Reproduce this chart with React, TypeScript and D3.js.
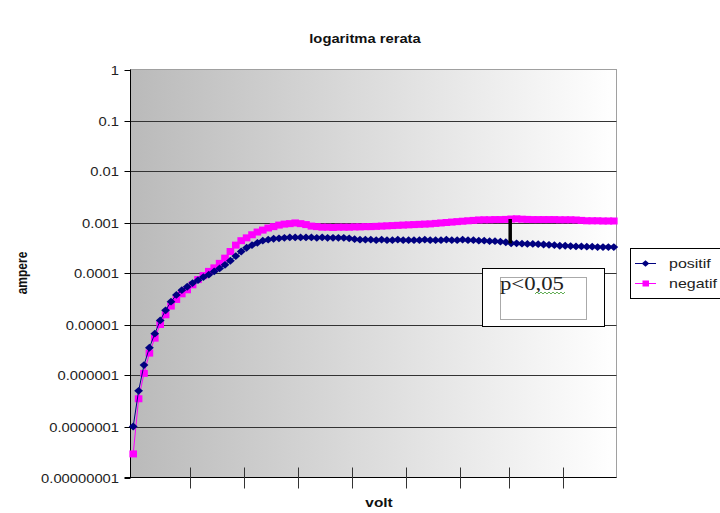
import { useEffect, useRef } from "react";
import * as d3 from "d3";

// ampere readings per volt step (90 categories, no labels on the volt axis)
const positif = [
  1.0e-7, 5.0e-7, 1.6e-6, 3.5e-6, 6.6e-6, 1.2e-5, 1.9e-5, 2.8e-5, 3.8e-5, 4.7e-5,
  5.5e-5, 6.5e-5, 7.4e-5, 8.5e-5, 9.5e-5, 1.1e-4, 1.26e-4, 1.48e-4, 1.78e-4, 2.2e-4,
  2.7e-4, 3.2e-4, 3.6e-4, 4.0e-4, 4.4e-4, 4.6e-4, 4.8e-4, 4.9e-4, 5.0e-4, 5.1e-4,
  5.1e-4, 5.1e-4, 5.1e-4, 5.1e-4, 5.0e-4, 5.1e-4, 5.0e-4, 5.0e-4, 5.0e-4, 5.0e-4,
  4.9e-4, 4.7e-4, 4.6e-4, 4.6e-4, 4.6e-4, 4.5e-4, 4.6e-4, 4.5e-4, 4.5e-4, 4.6e-4,
  4.5e-4, 4.5e-4, 4.5e-4, 4.5e-4, 4.6e-4, 4.5e-4, 4.5e-4, 4.5e-4, 4.6e-4, 4.5e-4,
  4.5e-4, 4.6e-4, 4.5e-4, 4.5e-4, 4.4e-4, 4.4e-4, 4.3e-4, 4.3e-4, 4.2e-4, 4.1e-4,
  3.9e-4, 3.9e-4, 3.85e-4, 3.8e-4, 3.8e-4, 3.75e-4, 3.7e-4, 3.65e-4, 3.6e-4, 3.5e-4,
  3.5e-4, 3.45e-4, 3.4e-4, 3.4e-4, 3.35e-4, 3.35e-4, 3.3e-4, 3.3e-4, 3.3e-4, 3.3e-4,
];

const negatif = [
  2.9e-8, 3.5e-7, 1.1e-6, 2.75e-6, 5.4e-6, 1.0e-5, 1.55e-5, 2.3e-5, 3.1e-5, 4.0e-5,
  4.8e-5, 6.0e-5, 7.6e-5, 9.1e-5, 1.1e-4, 1.29e-4, 1.58e-4, 2.0e-4, 2.7e-4, 3.6e-4,
  4.4e-4, 5.0e-4, 5.75e-4, 6.5e-4, 7.1e-4, 7.8e-4, 8.3e-4, 8.9e-4, 9.3e-4, 9.5e-4,
  9.8e-4, 9.5e-4, 9.1e-4, 8.5e-4, 8.3e-4, 8.1e-4, 8.1e-4, 8.0e-4, 8.1e-4, 8.1e-4,
  8.1e-4, 8.2e-4, 8.2e-4, 8.3e-4, 8.3e-4, 8.4e-4, 8.5e-4, 8.6e-4, 8.7e-4, 8.8e-4,
  8.9e-4, 9.0e-4, 9.1e-4, 9.2e-4, 9.3e-4, 9.4e-4, 9.6e-4, 9.8e-4, 1.0e-3, 1.02e-3,
  1.04e-3, 1.06e-3, 1.08e-3, 1.1e-3, 1.12e-3, 1.13e-3, 1.13e-3, 1.14e-3, 1.14e-3, 1.15e-3,
  1.17e-3, 1.18e-3, 1.16e-3, 1.15e-3, 1.14e-3, 1.14e-3, 1.14e-3, 1.14e-3, 1.14e-3, 1.13e-3,
  1.13e-3, 1.13e-3, 1.12e-3, 1.1e-3, 1.08e-3, 1.08e-3, 1.08e-3, 1.07e-3, 1.07e-3, 1.07e-3,
];

const yTicks = [1, 0.1, 0.01, 0.001, 0.0001, 0.00001, 0.000001, 0.0000001, 0.00000001];
const yTickLabels = [
  "1", "0.1", "0.01", "0.001", "0.0001", "0.00001", "0.000001", "0.0000001", "0.00000001",
];
// category boundaries where the volt axis has tick marks
const xTickAt = [10.5, 20.5, 30.5, 40.5, 50.5, 60.5, 69.5, 79.5];
const markIndex = 70; // where the p<0,05 bar is drawn

const SX = 1.23; // the original picture is stretched horizontally

function App() {
  const ref = useRef<SVGSVGElement>(null);

  useEffect(() => {
    document.body.style.margin = "0";
    const svg = d3.select(ref.current);
    svg.selectAll("*").remove();

    const left = 130.5, right = 616.5, top = 69.5, bottom = 477.5;
    const n = positif.length;

    const x = d3.scaleLinear().domain([-0.5, n - 0.5]).range([left, right]);
    const y = d3.scaleLog().domain([1e-8, 1]).range([bottom, top]);

    const txt = (
      g: any, px: number, py: number, s: string, size: number,
      opts: { anchor?: string; bold?: boolean; fill?: string; family?: string } = {}
    ) =>
      g.append("text")
        .attr("transform", `translate(${px},${py}) scale(${SX},1)`)
        .attr("text-anchor", opts.anchor || "start")
        .attr("font-family", opts.family || "'Liberation Sans', Arial, sans-serif")
        .attr("font-size", size)
        .attr("font-weight", opts.bold ? "bold" : "normal")
        .attr("fill", opts.fill || "#111")
        .text(s);

    const defs = svg.append("defs");
    const grad = defs.append("linearGradient").attr("id", "bg").attr("x1", 0).attr("x2", 1);
    grad.append("stop").attr("offset", 0).attr("stop-color", "#bababa");
    grad.append("stop").attr("offset", 0.45).attr("stop-color", "#d9d9d9");
    grad.append("stop").attr("offset", 1).attr("stop-color", "#ffffff");

    svg.append("rect").attr("width", 720).attr("height", 513).attr("fill", "#fff");

    // plot area
    svg.append("rect")
      .attr("x", left).attr("y", top)
      .attr("width", right - left).attr("height", bottom - top)
      .attr("fill", "url(#bg)").attr("stroke", "#a0a0a0");

    // gridlines
    svg.append("g")
      .selectAll("line")
      .data(yTicks.filter((t) => t < 1 && t > 1e-8))
      .join("line")
      .attr("x1", left).attr("x2", right)
      .attr("y1", (d) => Math.round(y(d)) + 0.5).attr("y2", (d) => Math.round(y(d)) + 0.5)
      .attr("stroke", "#333");

    // y axis
    const ya = svg.append("g");
    ya.append("line").attr("x1", left).attr("x2", left).attr("y1", top).attr("y2", bottom).attr("stroke", "#000");
    yTicks.forEach((t, i) => {
      const py = Math.round(y(t)) + 0.5;
      ya.append("line").attr("x1", left - 6).attr("x2", left).attr("y1", py).attr("y2", py).attr("stroke", "#000");
      txt(ya, 119, py + 4, yTickLabels[i], 12, { anchor: "end", fill: "#222" });
    });

    // x axis
    const xa = svg.append("g");
    xa.append("line").attr("x1", left - 6).attr("x2", right).attr("y1", bottom).attr("y2", bottom).attr("stroke", "#000");
    xa.selectAll(".tk")
      .data(xTickAt)
      .join("line")
      .attr("x1", (d) => Math.round(x(d)) + 0.5).attr("x2", (d) => Math.round(x(d)) + 0.5)
      .attr("y1", bottom - 10).attr("y2", bottom + 11)
      .attr("stroke", "#333");

    // series
    const line = d3.line<number>().x((_, i) => x(i)).y((d) => y(d));
    const diamond = "M0,-3.9L4.4,0L0,3.9L-4.4,0Z";

    svg.append("path").attr("d", line(negatif)).attr("fill", "none").attr("stroke", "#ff00ff").attr("stroke-width", 1);
    svg.append("g").selectAll("rect")
      .data(negatif)
      .join("rect")
      .attr("x", (_, i) => x(i) - 3.8).attr("y", (d) => y(d) - 3.5)
      .attr("width", 7.6).attr("height", 7)
      .attr("fill", "#ff00ff");

    svg.append("path").attr("d", line(positif)).attr("fill", "none").attr("stroke", "#000080").attr("stroke-width", 1);
    svg.append("g").selectAll("path")
      .data(positif)
      .join("path")
      .attr("d", diamond)
      .attr("transform", (d, i) => `translate(${x(i)},${y(d)})`)
      .attr("fill", "#000080");

    // significance bar between the two series
    svg.append("line")
      .attr("x1", x(markIndex) - 1).attr("x2", x(markIndex) - 1)
      .attr("y1", y(negatif[markIndex])).attr("y2", y(positif[markIndex]))
      .attr("stroke", "#000").attr("stroke-width", 3.5);

    // annotation box
    const ann = svg.append("g");
    ann.append("rect").attr("x", 482.5).attr("y", 268.5).attr("width", 122).attr("height", 58)
      .attr("fill", "#fff").attr("stroke", "#000");
    ann.append("rect").attr("x", 500.5).attr("y", 277.5).attr("width", 86).attr("height", 42)
      .attr("fill", "none").attr("stroke", "#555").attr("stroke-dasharray", "1,1");
    txt(ann, 500, 290, "p<0,05", 18.5, { family: "'Liberation Serif', 'Times New Roman', serif", fill: "#222" });
    const wave: [number, number][] = d3.range(0, 16).map((k) => [535 + k * 2, k % 2 ? 292 : 294]);
    ann.append("path").attr("d", d3.line()(wave)).attr("fill", "none").attr("stroke", "#3c9a2c").attr("stroke-width", 0.8);

    // legend
    const lg = svg.append("g");
    lg.append("rect").attr("x", 630.5).attr("y", 248.5).attr("width", 100).attr("height", 50)
      .attr("fill", "#fff").attr("stroke", "#000");
    [
      { name: "positif", color: "#000080", sq: false, cy: 263.5 },
      { name: "negatif", color: "#ff00ff", sq: true, cy: 283.5 },
    ].forEach((e) => {
      lg.append("line").attr("x1", 635).attr("x2", 656).attr("y1", e.cy).attr("y2", e.cy).attr("stroke", e.color);
      if (e.sq) {
        lg.append("rect").attr("x", 642.5).attr("y", e.cy - 3).attr("width", 6.5).attr("height", 6).attr("fill", e.color);
      } else {
        lg.append("path").attr("d", "M0,-3.3L3.8,0L0,3.3L-3.8,0Z").attr("transform", `translate(645.5,${e.cy})`).attr("fill", e.color);
      }
      txt(lg, 669, e.cy + 4.5, e.name, 13, { fill: "#222" });
    });

    // titles
    txt(svg, 365, 43, "logaritma rerata", 12, { anchor: "middle", bold: true });
    txt(svg, 379, 507, "volt", 12.5, { anchor: "middle", bold: true });
    svg.append("text")
      .attr("transform", `translate(27,273) rotate(-90) scale(1,${SX})`)
      .attr("text-anchor", "middle")
      .attr("font-family", "'Liberation Sans', Arial, sans-serif")
      .attr("font-size", 12)
      .attr("font-weight", "bold")
      .attr("fill", "#111")
      .text("ampere");
  }, []);

  return <svg ref={ref} width={720} height={513} style={{ display: "block" }}></svg>;
}

export default App;
